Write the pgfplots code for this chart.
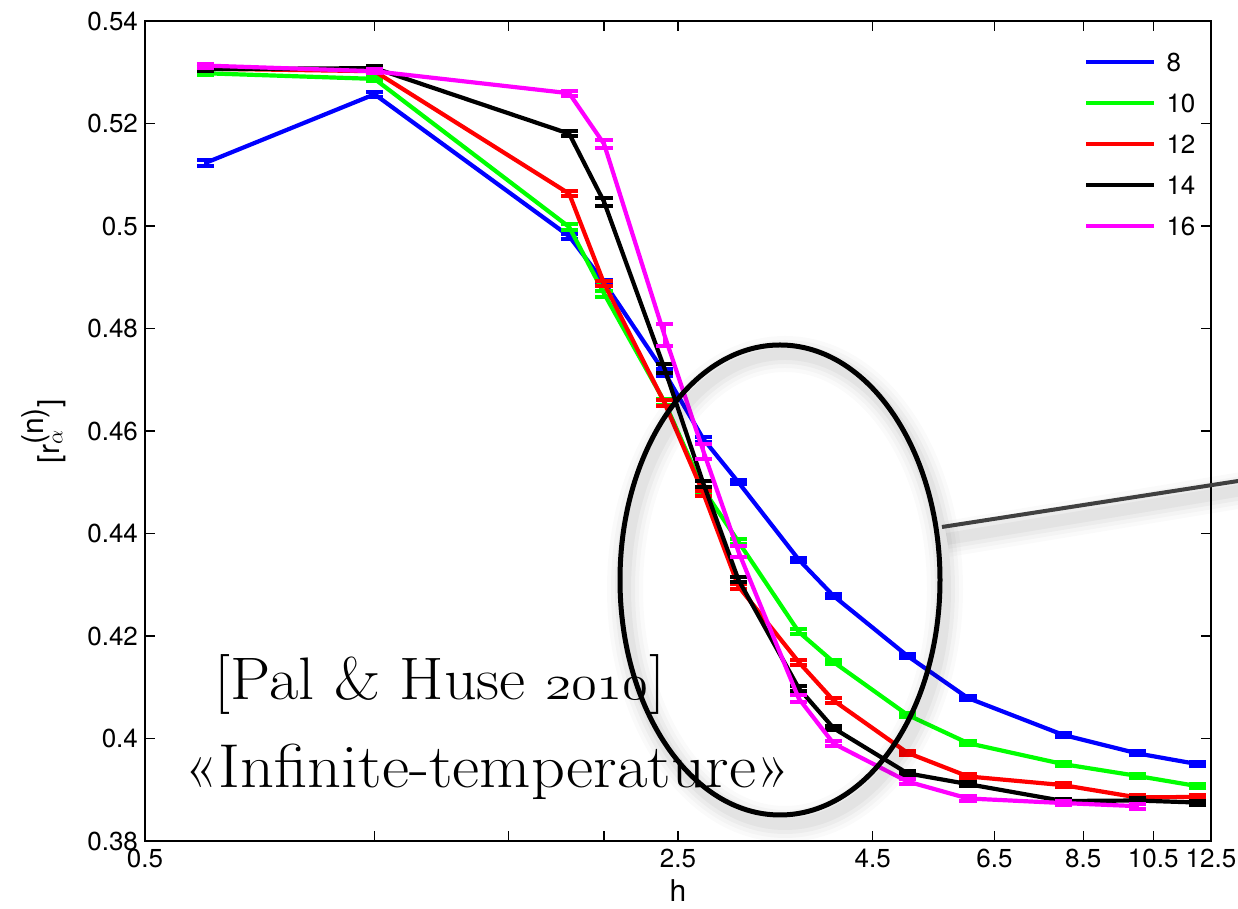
\documentclass[border=0pt]{standalone}
\usepackage{fontspec}
\setsansfont{TeX Gyre Heros}
\usepackage{graphicx}
\usepackage{pgfplots}
\usepackage{pgfplotstable}
\pgfplotsset{compat=1.18}

\definecolor{sBlue}{rgb}{0,0,1}
\definecolor{sGreen}{rgb}{0,1,0}
\definecolor{sRed}{rgb}{1,0,0}
\definecolor{sBlack}{rgb}{0,0,0}
\definecolor{sMagenta}{rgb}{1,0,1}

% mean level-spacing ratio vs disorder strength h, columns: h, r, error
\pgfplotstableread{
h r e
0.6 0.5123 0.0005
1.0 0.5257 0.0005
1.8 0.4980 0.0005
2.0 0.4890 0.0005
2.4 0.4714 0.0007
2.7 0.4584 0.0005
3.0 0.4500 0.0004
3.6 0.4349 0.0004
4.0 0.4278 0.0004
5.0 0.4161 0.0004
6.0 0.4079 0.0004
8.0 0.4007 0.0004
10 0.3971 0.0004
12 0.3950 0.0004
}\dataL
\pgfplotstableread{
h r e
0.6 0.5298 0.0004
1.0 0.5287 0.0004
1.8 0.4998 0.0005
2.0 0.4868 0.0006
2.4 0.4657 0.0006
2.7 0.4486 0.0005
3.0 0.4384 0.0005
3.6 0.4208 0.0005
4.0 0.4149 0.0004
5.0 0.4046 0.0004
6.0 0.3991 0.0004
8.0 0.3950 0.0004
10 0.3927 0.0004
12 0.3907 0.0004
}\dataM
\pgfplotstableread{
h r e
0.6 0.5307 0.0004
1.0 0.5302 0.0004
1.8 0.5063 0.0005
2.0 0.4888 0.0005
2.4 0.4655 0.0006
2.7 0.4478 0.0005
3.0 0.4297 0.0005
3.6 0.4149 0.0005
4.0 0.4074 0.0005
5.0 0.3972 0.0004
6.0 0.3926 0.0004
8.0 0.3909 0.0004
10 0.3885 0.0004
12 0.3886 0.0004
}\dataN
\pgfplotstableread{
h r e
0.6 0.5306 0.0004
1.0 0.5308 0.0004
1.8 0.5180 0.0005
2.0 0.5047 0.0008
2.4 0.4722 0.0008
2.7 0.4497 0.0006
3.0 0.4310 0.0005
3.6 0.4098 0.0005
4.0 0.4020 0.0004
5.0 0.3932 0.0004
6.0 0.3911 0.0004
8.0 0.3878 0.0004
10 0.3879 0.0004
12 0.3875 0.0004
}\dataO
\pgfplotstableread{
h r e
0.6 0.5313 0.0004
1.0 0.5302 0.0004
1.8 0.5259 0.0005
2.0 0.5160 0.0008
2.4 0.4787 0.0022
2.7 0.4560 0.0015
3.0 0.4365 0.0010
3.6 0.4078 0.0006
4.0 0.3990 0.0005
5.0 0.3916 0.0004
6.0 0.3883 0.0004
8.0 0.3874 0.0004
10 0.3868 0.0005
}\dataP

\pgfplotsset{
  rseries/.style={color=#1, line width=2.1pt, mark=none,
    error bars/.cd, y dir=both, y explicit,
    error bar style={line width=1.8pt, color=#1},
    error mark options={rotate=90, line width=2pt, mark size=4.3pt, color=#1}},
}

\begin{document}
\begin{tikzpicture}
\path[use as bounding box] (-72.5pt,-34pt) rectangle (546.5pt,420.5pt);
\begin{axis}[
  scale only axis,
  width=533pt, height=410pt,
  xmode=log,
  xmin=0.5, xmax=12.5,
  ymin=0.38, ymax=0.54,
  xtick={0.5,1,1.5,2,2.5,4.5,6.5,8.5,10.5,12.5},
  xticklabels={0.5,,,,2.5,4.5,6.5,8.5,10.5,12.5},
  minor xtick={},
  ytick={0.38,0.40,...,0.54},
  yticklabel style={/pgf/number format/fixed, /pgf/number format/precision=2},
  xticklabel style={yshift=-0.5pt},
  /pgf/number format/assume math mode=true,
  tick label style={font=\sffamily\fontsize{13}{15}\selectfont},
  label style={font=\sffamily\fontsize{15}{17}\selectfont},
  major tick length=5pt,
  tick style={black, line width=0.6pt},
  axis line style={line width=0.75pt},
  xlabel={h},
  xlabel style={at={(axis description cs:0.5,-0.06)}, anchor=center},
  ylabel={[r$_{\alpha}^{\textsf{(n)}}$]},
  ylabel style={at={(axis description cs:-0.095,0.5)}, anchor=center},
  legend image code/.code={\draw[#1] (0pt,0pt) -- (34pt,0pt);},
  legend cell align=left,
  legend style={draw=none, fill=none, inner sep=0pt,
    at={(0.8808,0.9616)}, anchor=north west,
    font=\sffamily\fontsize{13}{15}\selectfont,
    row sep=11.3pt, column sep=5pt,
    nodes={inner sep=0pt, text height=9.2pt, text depth=0pt}},
]
\addplot[rseries=sBlue] table[x=h, y=r, y error=e] {\dataL};
\addlegendentry{8}
\addplot[rseries=sGreen] table[x=h, y=r, y error=e] {\dataM};
\addlegendentry{10}
\addplot[rseries=sRed] table[x=h, y=r, y error=e] {\dataN};
\addlegendentry{12}
\addplot[rseries=sBlack] table[x=h, y=r, y error=e] {\dataO};
\addlegendentry{14}
\addplot[rseries=sMagenta] table[x=h, y=r, y error=e] {\dataP};
\addlegendentry{16}
\end{axis}

% soft drop shadows of the callout
\foreach \w/\o in {18/0.02,14/0.025,10/0.03,6/0.04} {
  \draw[line width=\w pt, black, opacity=\o] (320pt,126pt) ellipse [x radius=80pt, y radius=117.5pt];
  \draw[line width=\w pt, black, opacity=\o] (401pt,151pt) -- (600pt,184pt);
}
\draw[line width=2pt, black!75] (398.5pt,157pt) -- (600pt,188.3pt);
\draw[line width=2.5pt, black] (317.5pt,130.5pt) ellipse [x radius=80pt, y radius=117.5pt];

% reference annotation
\node[anchor=base, inner sep=0pt] at (147.5pt,70.5pt)
  {\resizebox{225pt}{\height}{\fontsize{30}{32}\selectfont [Pal \& Huse {\usefont{OML}{cmm}{m}{it}2010}]}};
\node[anchor=base, inner sep=0pt] at (171.25pt,26.5pt)
  {\resizebox{302.5pt}{\height}{\fontsize{31}{33}\selectfont «Infinite-temperature»}};
\end{tikzpicture}
\end{document}
